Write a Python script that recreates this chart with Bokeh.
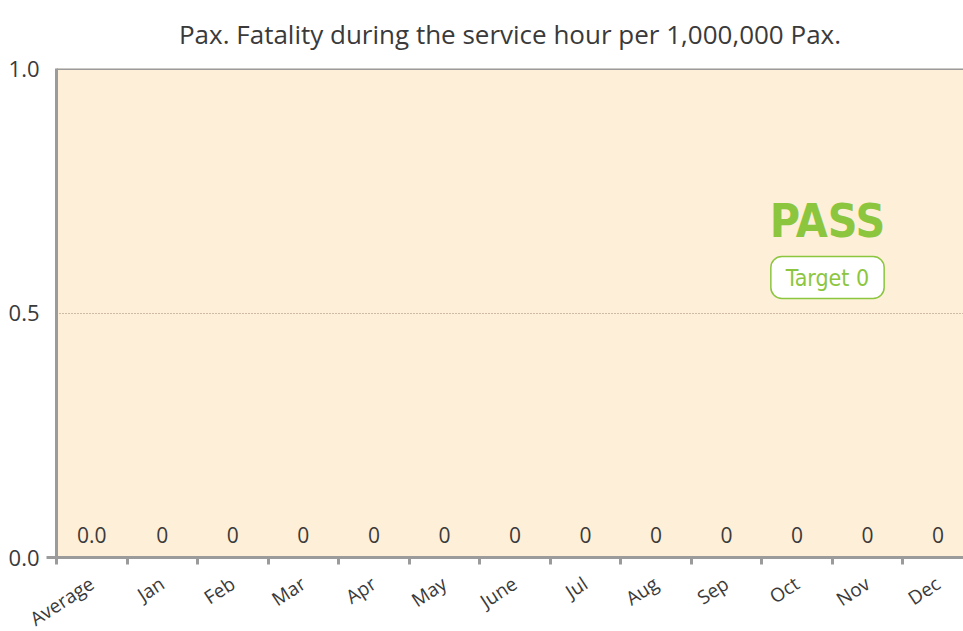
import math
from bokeh.plotting import figure
from bokeh.models import (Range1d, FixedTicker, PrintfTickFormatter, LabelSet,
                          ColumnDataSource, Label, Span)
from bokeh.core.properties import value
from bokeh.embed import file_html
from bokeh.resources import INLINE

categories = ["Average", "Jan", "Feb", "Mar", "Apr", "May", "June", "Jul",
              "Aug", "Sep", "Oct", "Nov", "Dec"]
values = [0.0, 0, 0, 0, 0, 0, 0, 0, 0, 0, 0, 0, 0]
value_labels = ["0.0", "0", "0", "0", "0", "0", "0", "0", "0", "0", "0", "0", "0"]
y_ticks = [0.0, 0.5, 1.0]
target_value = 0
status_text = "PASS"
title_text = "Pax. Fatality during the service hour per 1,000,000 Pax."

GREEN = "#8cc63f"
GRAY = "#9b9b9b"
TEXT = "#3a3a3a"
FONT = "Open Sans"
NARROW = "DejaVu Sans Condensed"

centers = [i + 0.5 for i in range(len(categories))]
bounds = [float(i) for i in range(len(categories))]

p = figure(width=963, height=645, output_backend="svg", toolbar_location=None,
           x_range=Range1d(0, 12.86), y_range=Range1d(0, 1),
           title=title_text,
           min_border_left=56, min_border_right=0, min_border_top=68,
           min_border_bottom=76)

p.background_fill_color = "#feefd9"
p.border_fill_color = "white"
p.outline_line_color = None

p.title.align = "center"
p.title.vertical_align = "top"
p.title.text_font = FONT
p.title.text_font_size = "26px"
p.title.text_font_style = "normal"
p.title.text_color = TEXT
p.title.standoff = 29

# x axis
xa = p.xaxis[0]
xa.ticker = FixedTicker(ticks=centers, minor_ticks=bounds)
xa.major_label_overrides = {c: n for c, n in zip(centers, categories)}
xa.major_label_orientation = 0.58
xa.major_label_text_font = FONT
xa.major_label_text_font_size = "19px"
xa.major_label_text_line_height = 0.9
xa.major_label_text_color = TEXT
xa.major_label_standoff = 17
xa.major_tick_out = 0
xa.major_tick_in = 0
xa.minor_tick_out = 7
xa.minor_tick_in = 0
xa.minor_tick_line_color = GRAY
xa.minor_tick_line_width = 3
xa.axis_line_color = GRAY
xa.axis_line_width = 3

# y axis
ya = p.yaxis[0]
ya.ticker = FixedTicker(ticks=y_ticks, minor_ticks=[0.0])
ya.formatter = PrintfTickFormatter(format="%.1f")
ya.major_label_text_font = FONT
ya.major_label_text_font_size = "22px"
ya.major_label_text_color = TEXT
ya.major_label_standoff = 7
ya.major_tick_out = 0
ya.major_tick_in = 0
ya.minor_tick_out = 10
ya.minor_tick_in = 0
ya.minor_tick_line_color = GRAY
ya.minor_tick_line_width = 3
ya.axis_line_color = GRAY
ya.axis_line_width = 3

p.xgrid.visible = False
p.ygrid.ticker = FixedTicker(ticks=[0.5])
p.ygrid.grid_line_color = "#a08670"
p.ygrid.grid_line_dash = "1 2"
p.ygrid.grid_line_width = 1

p.add_layout(Span(location=1.0, dimension="width", line_color=GRAY, line_width=3))

src = ColumnDataSource(dict(x=centers, y=values, t=value_labels))
p.add_layout(LabelSet(x="x", y="y", text="t", source=src, text_align="center",
                      text_baseline="bottom", y_offset=15,
                      text_font_size=value("21px"), text_color=TEXT,
                      text_font=value(FONT)))

p.add_layout(Label(x=771, y=337, x_units="screen", y_units="screen",
                   text=status_text, text_align="center", text_baseline="middle",
                   text_font=NARROW, text_font_style="bold",
                   text_font_size="46px", text_color=GREEN))
p.add_layout(Label(x=771, y=280, x_units="screen", y_units="screen",
                   text="Target " + str(target_value), text_align="center",
                   text_baseline="middle",
                   text_font=NARROW, text_font_size="23px",
                   text_color=GREEN, background_fill_color="white",
                   border_line_color=GREEN, border_line_width=1.5,
                   border_radius=11, padding=(15, 8)))

open("out.html", "w").write(file_html(p, INLINE))
